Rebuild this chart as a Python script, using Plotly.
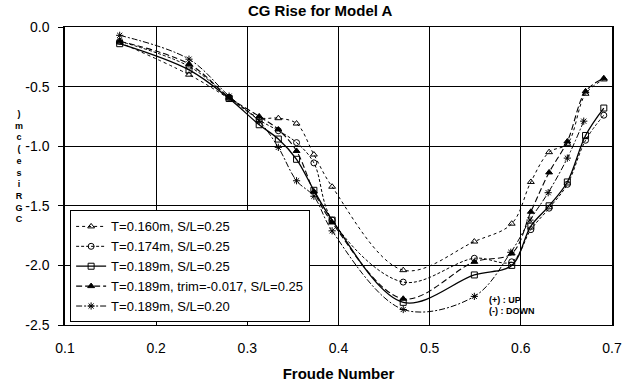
import plotly.graph_objects as go

# ---- data ----
x_common = [0.16, 0.236, 0.28, 0.313, 0.334, 0.354, 0.373, 0.393, 0.471, 0.549, 0.590, 0.611, 0.631, 0.651, 0.671, 0.691]

y_t160 = [-0.13, -0.40, -0.60, -0.76, -0.765, -0.81, -1.07, -1.34, -2.04, -1.80, -1.65, -1.30, -1.05, -0.98, -0.56, -0.44]
y_t174 = [-0.12, -0.33, -0.59, -0.78, -0.87, -0.97, -1.14, -1.62, -2.14, -1.94, -1.97, -1.70, -1.52, -1.32, -0.95, -0.74]
y_t189 = [-0.14, -0.36, -0.60, -0.82, -0.94, -1.11, -1.37, -1.62, -2.31, -2.08, -2.00, -1.67, -1.50, -1.30, -0.91, -0.68]
y_trim = [-0.12, -0.31, -0.59, -0.75, -0.86, -1.04, -1.38, -1.64, -2.28, -1.97, -1.90, -1.55, -1.22, -0.96, -0.54, -0.43]

x_sl20 = [0.16, 0.236, 0.28, 0.313, 0.334, 0.354, 0.373, 0.393, 0.471, 0.549, 0.589, 0.610, 0.630, 0.651, 0.669]
y_sl20 = [-0.07, -0.27, -0.58, -0.79, -1.01, -1.29, -1.42, -1.71, -2.37, -2.26, -1.89, -1.62, -1.39, -1.10, -0.79]

names = ["T=0.160m, S/L=0.25", "T=0.174m, S/L=0.25", "T=0.189m, S/L=0.25",
         "T=0.189m, trim=-0.017, S/L=0.25", "T=0.189m, S/L=0.20"]

x_ticks = [0.1, 0.2, 0.3, 0.4, 0.5, 0.6, 0.7]
x_ticktext = ["0.1", "0.2", "0.3", "0.4", "0.5", "0.6", "0.7"]
y_ticks = [0.0, -0.5, -1.0, -1.5, -2.0, -2.5]
y_ticktext = ["0.0", "-0.5", "-1.0", "-1.5", "-2.0", "-2.5"]
ylabel_chars = [")", "m", "c", "(", "e", "s", "i", "R", "G", "C"]

FONT = "Arial, Liberation Sans, sans-serif"

series = [
    (x_common, y_t160, names[0], "triangle-up-open", "dot", 1.0),
    (x_common, y_t174, names[1], "circle-open", "3px,2px", 1.0),
    (x_common, y_t189, names[2], "square-open", "solid", 1.3),
    (x_common, y_trim, names[3], "triangle-up", "6px,3px", 1.1),
    (x_sl20, y_sl20, names[4], "asterisk-open", "6px,2px,2px,2px", 1.0),
]

fig = go.Figure()
for i, (xs, ys, nm, sym, dash, w) in enumerate(series):
    fig.add_trace(go.Scatter(
        x=xs, y=ys, name=nm, mode="lines+markers",
        line=dict(color="black", width=w, dash=dash, shape="spline", smoothing=1.0),
        marker=dict(symbol=sym, size=6, color="black", line=dict(color="black", width=1)),
        legendgroup=f"g{i}",
    ))

fig.add_annotation(x=0.563, y=-2.29, xref="x", yref="y", text="<b>(+) : UP</b>",
                   showarrow=False, xanchor="left", font=dict(family=FONT, size=9, color="black"))
fig.add_annotation(x=0.563, y=-2.385, xref="x", yref="y", text="<b>(-) : DOWN</b>",
                   showarrow=False, xanchor="left", font=dict(family=FONT, size=9, color="black"))

H, W = 391, 634
ml, mr, mt, mb = 65, 16, 27, 58
pw, ph = W - ml - mr, H - mt - mb

# stacked y-axis title as a single text block
px, py = 12, 170
fig.add_annotation(x=(px - ml) / pw, y=1 - (py - mt) / ph, xref="paper", yref="paper",
                   text="<b>" + "<br>".join(ylabel_chars) + "</b>", showarrow=False,
                   align="center", font=dict(family=FONT, size=9, color="black"))

fig.update_layout(
    width=W, height=H,
    margin=dict(l=ml, r=mr, t=mt, b=mb),
    paper_bgcolor="white", plot_bgcolor="white",
    font=dict(family=FONT, color="black"),
    title=dict(text="<b>CG Rise for Model A</b>", x=0.505, xanchor="center", y=0.972, yanchor="middle",
               font=dict(family=FONT, size=15, color="black")),
    showlegend=True,
    legend=dict(x=0.009, y=0.385, xanchor="left", yanchor="top",
                bgcolor="white", bordercolor="black", borderwidth=1.2,
                font=dict(family=FONT, size=13, color="black"),
                tracegroupgap=0, itemwidth=30),
)
fig.update_xaxes(range=[0.1, 0.7], tickvals=x_ticks, ticktext=x_ticktext,
                 showgrid=True, gridcolor="black", gridwidth=1,
                 showline=True, linecolor="black", linewidth=1, mirror=True,
                 ticks="", ticklabelstandoff=10, zeroline=False,
                 tickfont=dict(family=FONT, size=14, color="black"),
                 title=dict(text="<b>Froude Number</b>", standoff=13,
                            font=dict(family=FONT, size=15, color="black")))
fig.update_yaxes(range=[-2.5, 0.0], tickvals=y_ticks, ticktext=y_ticktext,
                 showgrid=True, gridcolor="black", gridwidth=1,
                 showline=True, linecolor="black", linewidth=1.5, mirror=True,
                 ticks="outside", ticklen=5, tickcolor="black", ticklabelstandoff=6,
                 zeroline=False,
                 tickfont=dict(family=FONT, size=14, color="black"))

fig.write_html("out.html")
